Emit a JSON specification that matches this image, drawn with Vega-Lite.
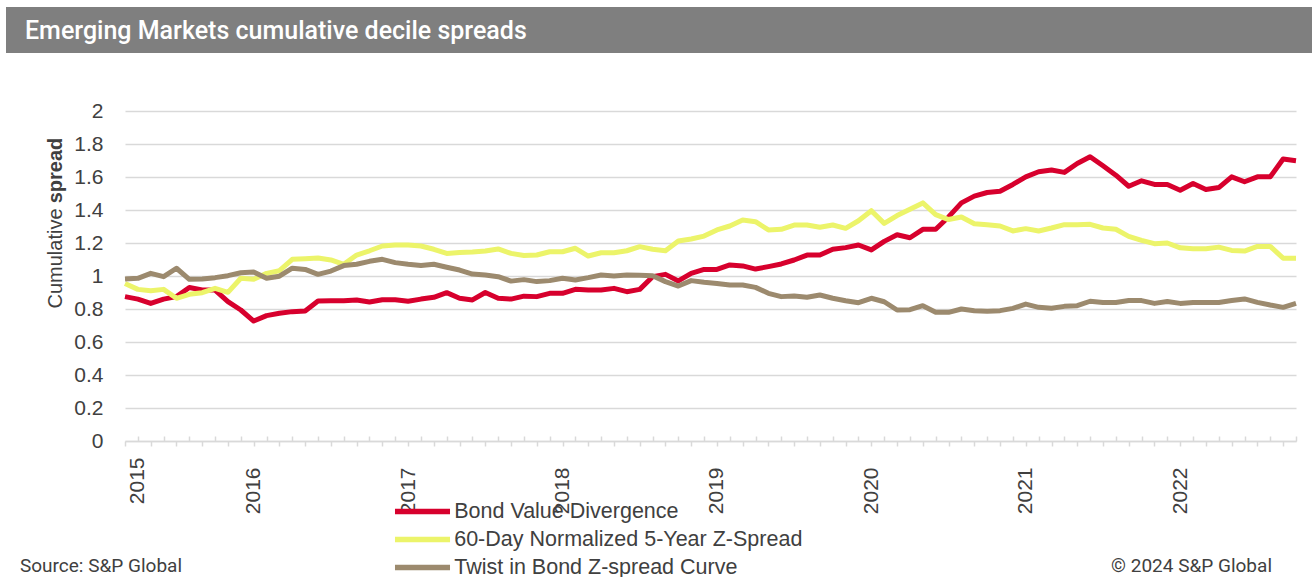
{
"$schema": "https://vega.github.io/schema/vega-lite/v6.json",
"background": "white",
"padding": {"left": 6, "top": 7, "right": 0, "bottom": 0},
"config": {"view": {"stroke": null}, "font": "Liberation Sans"},
"spacing": 43,
"vconcat": [
{
"width": 1306, "height": 46,
"view": {"fill": "#7f7f7f", "stroke": null},
"data": {"values": [{"pos": "left", "t": "Emerging Markets cumulative decile spreads"}]},
"layer": [
{
"mark": {"type": "text", "align": "left", "baseline": "middle", "dx": 19, "dy": 1, "color": "white", "font": "Roboto", "fontWeight": 500, "fontSize": 25},
"encoding": {
"x": {"field": "pos", "type": "nominal", "scale": {"type": "point", "domain": ["left", "right"], "padding": 0}, "axis": null},
"text": {"field": "t"}
}
},
{
"mark": {"type": "text", "align": "left", "baseline": "top", "dx": 30, "dy": 17, "fontSize": 10, "color": "#7f7f7f"},
"encoding": {
"x": {"field": "pos", "type": "nominal", "scale": {"type": "point", "domain": ["left", "right"], "padding": 0}, "axis": null},
"text": {"value": " "}
}
}
]
},
{
"spacing": 0,
"hconcat": [
{
"width": 39, "height": 1,
"data": {"values": []},
"mark": "point"
},
{
"width": 1171, "height": 330,
"data": {"values": [
{"month":"2015-03","series":"Bond Value Divergence","value":0.875},
{"month":"2015-04","series":"Bond Value Divergence","value":0.86},
{"month":"2015-05","series":"Bond Value Divergence","value":0.834},
{"month":"2015-06","series":"Bond Value Divergence","value":0.86},
{"month":"2015-07","series":"Bond Value Divergence","value":0.875},
{"month":"2015-08","series":"Bond Value Divergence","value":0.93},
{"month":"2015-09","series":"Bond Value Divergence","value":0.915},
{"month":"2015-10","series":"Bond Value Divergence","value":0.915},
{"month":"2015-11","series":"Bond Value Divergence","value":0.845},
{"month":"2015-12","series":"Bond Value Divergence","value":0.794},
{"month":"2016-01","series":"Bond Value Divergence","value":0.727},
{"month":"2016-02","series":"Bond Value Divergence","value":0.76},
{"month":"2016-03","series":"Bond Value Divergence","value":0.774},
{"month":"2016-04","series":"Bond Value Divergence","value":0.784},
{"month":"2016-05","series":"Bond Value Divergence","value":0.788},
{"month":"2016-06","series":"Bond Value Divergence","value":0.848},
{"month":"2016-07","series":"Bond Value Divergence","value":0.85},
{"month":"2016-08","series":"Bond Value Divergence","value":0.85},
{"month":"2016-09","series":"Bond Value Divergence","value":0.855},
{"month":"2016-10","series":"Bond Value Divergence","value":0.842},
{"month":"2016-11","series":"Bond Value Divergence","value":0.856},
{"month":"2016-12","series":"Bond Value Divergence","value":0.856},
{"month":"2017-01","series":"Bond Value Divergence","value":0.847},
{"month":"2017-02","series":"Bond Value Divergence","value":0.86},
{"month":"2017-03","series":"Bond Value Divergence","value":0.871},
{"month":"2017-04","series":"Bond Value Divergence","value":0.899},
{"month":"2017-05","series":"Bond Value Divergence","value":0.865},
{"month":"2017-06","series":"Bond Value Divergence","value":0.855},
{"month":"2017-07","series":"Bond Value Divergence","value":0.9},
{"month":"2017-08","series":"Bond Value Divergence","value":0.865},
{"month":"2017-09","series":"Bond Value Divergence","value":0.86},
{"month":"2017-10","series":"Bond Value Divergence","value":0.878},
{"month":"2017-11","series":"Bond Value Divergence","value":0.875},
{"month":"2017-12","series":"Bond Value Divergence","value":0.895},
{"month":"2018-01","series":"Bond Value Divergence","value":0.895},
{"month":"2018-02","series":"Bond Value Divergence","value":0.919},
{"month":"2018-03","series":"Bond Value Divergence","value":0.915},
{"month":"2018-04","series":"Bond Value Divergence","value":0.915},
{"month":"2018-05","series":"Bond Value Divergence","value":0.925},
{"month":"2018-06","series":"Bond Value Divergence","value":0.905},
{"month":"2018-07","series":"Bond Value Divergence","value":0.919},
{"month":"2018-08","series":"Bond Value Divergence","value":0.996},
{"month":"2018-09","series":"Bond Value Divergence","value":1.01},
{"month":"2018-10","series":"Bond Value Divergence","value":0.97},
{"month":"2018-11","series":"Bond Value Divergence","value":1.016},
{"month":"2018-12","series":"Bond Value Divergence","value":1.04},
{"month":"2019-01","series":"Bond Value Divergence","value":1.04},
{"month":"2019-02","series":"Bond Value Divergence","value":1.067},
{"month":"2019-03","series":"Bond Value Divergence","value":1.061},
{"month":"2019-04","series":"Bond Value Divergence","value":1.042},
{"month":"2019-05","series":"Bond Value Divergence","value":1.057},
{"month":"2019-06","series":"Bond Value Divergence","value":1.073},
{"month":"2019-07","series":"Bond Value Divergence","value":1.097},
{"month":"2019-08","series":"Bond Value Divergence","value":1.127},
{"month":"2019-09","series":"Bond Value Divergence","value":1.127},
{"month":"2019-10","series":"Bond Value Divergence","value":1.162},
{"month":"2019-11","series":"Bond Value Divergence","value":1.172},
{"month":"2019-12","series":"Bond Value Divergence","value":1.188},
{"month":"2020-01","series":"Bond Value Divergence","value":1.158},
{"month":"2020-02","series":"Bond Value Divergence","value":1.21},
{"month":"2020-03","series":"Bond Value Divergence","value":1.25},
{"month":"2020-04","series":"Bond Value Divergence","value":1.232},
{"month":"2020-05","series":"Bond Value Divergence","value":1.283},
{"month":"2020-06","series":"Bond Value Divergence","value":1.283},
{"month":"2020-07","series":"Bond Value Divergence","value":1.358},
{"month":"2020-08","series":"Bond Value Divergence","value":1.443},
{"month":"2020-09","series":"Bond Value Divergence","value":1.484},
{"month":"2020-10","series":"Bond Value Divergence","value":1.506},
{"month":"2020-11","series":"Bond Value Divergence","value":1.514},
{"month":"2020-12","series":"Bond Value Divergence","value":1.555},
{"month":"2021-01","series":"Bond Value Divergence","value":1.601},
{"month":"2021-02","series":"Bond Value Divergence","value":1.632},
{"month":"2021-03","series":"Bond Value Divergence","value":1.642},
{"month":"2021-04","series":"Bond Value Divergence","value":1.628},
{"month":"2021-05","series":"Bond Value Divergence","value":1.682},
{"month":"2021-06","series":"Bond Value Divergence","value":1.723},
{"month":"2021-07","series":"Bond Value Divergence","value":1.668},
{"month":"2021-08","series":"Bond Value Divergence","value":1.611},
{"month":"2021-09","series":"Bond Value Divergence","value":1.544},
{"month":"2021-10","series":"Bond Value Divergence","value":1.577},
{"month":"2021-11","series":"Bond Value Divergence","value":1.555},
{"month":"2021-12","series":"Bond Value Divergence","value":1.555},
{"month":"2022-01","series":"Bond Value Divergence","value":1.52},
{"month":"2022-02","series":"Bond Value Divergence","value":1.561},
{"month":"2022-03","series":"Bond Value Divergence","value":1.524},
{"month":"2022-04","series":"Bond Value Divergence","value":1.536},
{"month":"2022-05","series":"Bond Value Divergence","value":1.601},
{"month":"2022-06","series":"Bond Value Divergence","value":1.571},
{"month":"2022-07","series":"Bond Value Divergence","value":1.601},
{"month":"2022-08","series":"Bond Value Divergence","value":1.601},
{"month":"2022-09","series":"Bond Value Divergence","value":1.709},
{"month":"2022-10","series":"Bond Value Divergence","value":1.699},
{"month":"2015-03","series":"60-Day Normalized 5-Year Z-Spread","value":0.955},
{"month":"2015-04","series":"60-Day Normalized 5-Year Z-Spread","value":0.919},
{"month":"2015-05","series":"60-Day Normalized 5-Year Z-Spread","value":0.911},
{"month":"2015-06","series":"60-Day Normalized 5-Year Z-Spread","value":0.919},
{"month":"2015-07","series":"60-Day Normalized 5-Year Z-Spread","value":0.865},
{"month":"2015-08","series":"60-Day Normalized 5-Year Z-Spread","value":0.889},
{"month":"2015-09","series":"60-Day Normalized 5-Year Z-Spread","value":0.899},
{"month":"2015-10","series":"60-Day Normalized 5-Year Z-Spread","value":0.925},
{"month":"2015-11","series":"60-Day Normalized 5-Year Z-Spread","value":0.901},
{"month":"2015-12","series":"60-Day Normalized 5-Year Z-Spread","value":0.986},
{"month":"2016-01","series":"60-Day Normalized 5-Year Z-Spread","value":0.98},
{"month":"2016-02","series":"60-Day Normalized 5-Year Z-Spread","value":1.016},
{"month":"2016-03","series":"60-Day Normalized 5-Year Z-Spread","value":1.032},
{"month":"2016-04","series":"60-Day Normalized 5-Year Z-Spread","value":1.101},
{"month":"2016-05","series":"60-Day Normalized 5-Year Z-Spread","value":1.105},
{"month":"2016-06","series":"60-Day Normalized 5-Year Z-Spread","value":1.109},
{"month":"2016-07","series":"60-Day Normalized 5-Year Z-Spread","value":1.097},
{"month":"2016-08","series":"60-Day Normalized 5-Year Z-Spread","value":1.071},
{"month":"2016-09","series":"60-Day Normalized 5-Year Z-Spread","value":1.127},
{"month":"2016-10","series":"60-Day Normalized 5-Year Z-Spread","value":1.153},
{"month":"2016-11","series":"60-Day Normalized 5-Year Z-Spread","value":1.182},
{"month":"2016-12","series":"60-Day Normalized 5-Year Z-Spread","value":1.188},
{"month":"2017-01","series":"60-Day Normalized 5-Year Z-Spread","value":1.188},
{"month":"2017-02","series":"60-Day Normalized 5-Year Z-Spread","value":1.182},
{"month":"2017-03","series":"60-Day Normalized 5-Year Z-Spread","value":1.162},
{"month":"2017-04","series":"60-Day Normalized 5-Year Z-Spread","value":1.137},
{"month":"2017-05","series":"60-Day Normalized 5-Year Z-Spread","value":1.143},
{"month":"2017-06","series":"60-Day Normalized 5-Year Z-Spread","value":1.145},
{"month":"2017-07","series":"60-Day Normalized 5-Year Z-Spread","value":1.151},
{"month":"2017-08","series":"60-Day Normalized 5-Year Z-Spread","value":1.164},
{"month":"2017-09","series":"60-Day Normalized 5-Year Z-Spread","value":1.137},
{"month":"2017-10","series":"60-Day Normalized 5-Year Z-Spread","value":1.124},
{"month":"2017-11","series":"60-Day Normalized 5-Year Z-Spread","value":1.127},
{"month":"2017-12","series":"60-Day Normalized 5-Year Z-Spread","value":1.147},
{"month":"2018-01","series":"60-Day Normalized 5-Year Z-Spread","value":1.147},
{"month":"2018-02","series":"60-Day Normalized 5-Year Z-Spread","value":1.168},
{"month":"2018-03","series":"60-Day Normalized 5-Year Z-Spread","value":1.121},
{"month":"2018-04","series":"60-Day Normalized 5-Year Z-Spread","value":1.141},
{"month":"2018-05","series":"60-Day Normalized 5-Year Z-Spread","value":1.141},
{"month":"2018-06","series":"60-Day Normalized 5-Year Z-Spread","value":1.153},
{"month":"2018-07","series":"60-Day Normalized 5-Year Z-Spread","value":1.178},
{"month":"2018-08","series":"60-Day Normalized 5-Year Z-Spread","value":1.162},
{"month":"2018-09","series":"60-Day Normalized 5-Year Z-Spread","value":1.153},
{"month":"2018-10","series":"60-Day Normalized 5-Year Z-Spread","value":1.212},
{"month":"2018-11","series":"60-Day Normalized 5-Year Z-Spread","value":1.224},
{"month":"2018-12","series":"60-Day Normalized 5-Year Z-Spread","value":1.242},
{"month":"2019-01","series":"60-Day Normalized 5-Year Z-Spread","value":1.279},
{"month":"2019-02","series":"60-Day Normalized 5-Year Z-Spread","value":1.303},
{"month":"2019-03","series":"60-Day Normalized 5-Year Z-Spread","value":1.339},
{"month":"2019-04","series":"60-Day Normalized 5-Year Z-Spread","value":1.329},
{"month":"2019-05","series":"60-Day Normalized 5-Year Z-Spread","value":1.279},
{"month":"2019-06","series":"60-Day Normalized 5-Year Z-Spread","value":1.283},
{"month":"2019-07","series":"60-Day Normalized 5-Year Z-Spread","value":1.309},
{"month":"2019-08","series":"60-Day Normalized 5-Year Z-Spread","value":1.309},
{"month":"2019-09","series":"60-Day Normalized 5-Year Z-Spread","value":1.295},
{"month":"2019-10","series":"60-Day Normalized 5-Year Z-Spread","value":1.309},
{"month":"2019-11","series":"60-Day Normalized 5-Year Z-Spread","value":1.289},
{"month":"2019-12","series":"60-Day Normalized 5-Year Z-Spread","value":1.335},
{"month":"2020-01","series":"60-Day Normalized 5-Year Z-Spread","value":1.396},
{"month":"2020-02","series":"60-Day Normalized 5-Year Z-Spread","value":1.319},
{"month":"2020-03","series":"60-Day Normalized 5-Year Z-Spread","value":1.366},
{"month":"2020-04","series":"60-Day Normalized 5-Year Z-Spread","value":1.404},
{"month":"2020-05","series":"60-Day Normalized 5-Year Z-Spread","value":1.443},
{"month":"2020-06","series":"60-Day Normalized 5-Year Z-Spread","value":1.372},
{"month":"2020-07","series":"60-Day Normalized 5-Year Z-Spread","value":1.342},
{"month":"2020-08","series":"60-Day Normalized 5-Year Z-Spread","value":1.358},
{"month":"2020-09","series":"60-Day Normalized 5-Year Z-Spread","value":1.317},
{"month":"2020-10","series":"60-Day Normalized 5-Year Z-Spread","value":1.311},
{"month":"2020-11","series":"60-Day Normalized 5-Year Z-Spread","value":1.303},
{"month":"2020-12","series":"60-Day Normalized 5-Year Z-Spread","value":1.273},
{"month":"2021-01","series":"60-Day Normalized 5-Year Z-Spread","value":1.287},
{"month":"2021-02","series":"60-Day Normalized 5-Year Z-Spread","value":1.273},
{"month":"2021-03","series":"60-Day Normalized 5-Year Z-Spread","value":1.291},
{"month":"2021-04","series":"60-Day Normalized 5-Year Z-Spread","value":1.311},
{"month":"2021-05","series":"60-Day Normalized 5-Year Z-Spread","value":1.311},
{"month":"2021-06","series":"60-Day Normalized 5-Year Z-Spread","value":1.313},
{"month":"2021-07","series":"60-Day Normalized 5-Year Z-Spread","value":1.291},
{"month":"2021-08","series":"60-Day Normalized 5-Year Z-Spread","value":1.283},
{"month":"2021-09","series":"60-Day Normalized 5-Year Z-Spread","value":1.24},
{"month":"2021-10","series":"60-Day Normalized 5-Year Z-Spread","value":1.216},
{"month":"2021-11","series":"60-Day Normalized 5-Year Z-Spread","value":1.196},
{"month":"2021-12","series":"60-Day Normalized 5-Year Z-Spread","value":1.2},
{"month":"2022-01","series":"60-Day Normalized 5-Year Z-Spread","value":1.171},
{"month":"2022-02","series":"60-Day Normalized 5-Year Z-Spread","value":1.165},
{"month":"2022-03","series":"60-Day Normalized 5-Year Z-Spread","value":1.165},
{"month":"2022-04","series":"60-Day Normalized 5-Year Z-Spread","value":1.175},
{"month":"2022-05","series":"60-Day Normalized 5-Year Z-Spread","value":1.155},
{"month":"2022-06","series":"60-Day Normalized 5-Year Z-Spread","value":1.151},
{"month":"2022-07","series":"60-Day Normalized 5-Year Z-Spread","value":1.179},
{"month":"2022-08","series":"60-Day Normalized 5-Year Z-Spread","value":1.179},
{"month":"2022-09","series":"60-Day Normalized 5-Year Z-Spread","value":1.108},
{"month":"2022-10","series":"60-Day Normalized 5-Year Z-Spread","value":1.108},
{"month":"2015-03","series":"Twist in Bond Z-spread Curve","value":0.982},
{"month":"2015-04","series":"Twist in Bond Z-spread Curve","value":0.986},
{"month":"2015-05","series":"Twist in Bond Z-spread Curve","value":1.016},
{"month":"2015-06","series":"Twist in Bond Z-spread Curve","value":0.996},
{"month":"2015-07","series":"Twist in Bond Z-spread Curve","value":1.047},
{"month":"2015-08","series":"Twist in Bond Z-spread Curve","value":0.98},
{"month":"2015-09","series":"Twist in Bond Z-spread Curve","value":0.982},
{"month":"2015-10","series":"Twist in Bond Z-spread Curve","value":0.99},
{"month":"2015-11","series":"Twist in Bond Z-spread Curve","value":1.002},
{"month":"2015-12","series":"Twist in Bond Z-spread Curve","value":1.02},
{"month":"2016-01","series":"Twist in Bond Z-spread Curve","value":1.024},
{"month":"2016-02","series":"Twist in Bond Z-spread Curve","value":0.986},
{"month":"2016-03","series":"Twist in Bond Z-spread Curve","value":0.999},
{"month":"2016-04","series":"Twist in Bond Z-spread Curve","value":1.047},
{"month":"2016-05","series":"Twist in Bond Z-spread Curve","value":1.04},
{"month":"2016-06","series":"Twist in Bond Z-spread Curve","value":1.01},
{"month":"2016-07","series":"Twist in Bond Z-spread Curve","value":1.03},
{"month":"2016-08","series":"Twist in Bond Z-spread Curve","value":1.063},
{"month":"2016-09","series":"Twist in Bond Z-spread Curve","value":1.071},
{"month":"2016-10","series":"Twist in Bond Z-spread Curve","value":1.089},
{"month":"2016-11","series":"Twist in Bond Z-spread Curve","value":1.101},
{"month":"2016-12","series":"Twist in Bond Z-spread Curve","value":1.081},
{"month":"2017-01","series":"Twist in Bond Z-spread Curve","value":1.071},
{"month":"2017-02","series":"Twist in Bond Z-spread Curve","value":1.063},
{"month":"2017-03","series":"Twist in Bond Z-spread Curve","value":1.071},
{"month":"2017-04","series":"Twist in Bond Z-spread Curve","value":1.053},
{"month":"2017-05","series":"Twist in Bond Z-spread Curve","value":1.036},
{"month":"2017-06","series":"Twist in Bond Z-spread Curve","value":1.012},
{"month":"2017-07","series":"Twist in Bond Z-spread Curve","value":1.006},
{"month":"2017-08","series":"Twist in Bond Z-spread Curve","value":0.996},
{"month":"2017-09","series":"Twist in Bond Z-spread Curve","value":0.969},
{"month":"2017-10","series":"Twist in Bond Z-spread Curve","value":0.978},
{"month":"2017-11","series":"Twist in Bond Z-spread Curve","value":0.966},
{"month":"2017-12","series":"Twist in Bond Z-spread Curve","value":0.972},
{"month":"2018-01","series":"Twist in Bond Z-spread Curve","value":0.986},
{"month":"2018-02","series":"Twist in Bond Z-spread Curve","value":0.976},
{"month":"2018-03","series":"Twist in Bond Z-spread Curve","value":0.99},
{"month":"2018-04","series":"Twist in Bond Z-spread Curve","value":1.006},
{"month":"2018-05","series":"Twist in Bond Z-spread Curve","value":1.0},
{"month":"2018-06","series":"Twist in Bond Z-spread Curve","value":1.006},
{"month":"2018-07","series":"Twist in Bond Z-spread Curve","value":1.004},
{"month":"2018-08","series":"Twist in Bond Z-spread Curve","value":1.002},
{"month":"2018-09","series":"Twist in Bond Z-spread Curve","value":0.966},
{"month":"2018-10","series":"Twist in Bond Z-spread Curve","value":0.939},
{"month":"2018-11","series":"Twist in Bond Z-spread Curve","value":0.972},
{"month":"2018-12","series":"Twist in Bond Z-spread Curve","value":0.962},
{"month":"2019-01","series":"Twist in Bond Z-spread Curve","value":0.955},
{"month":"2019-02","series":"Twist in Bond Z-spread Curve","value":0.945},
{"month":"2019-03","series":"Twist in Bond Z-spread Curve","value":0.945},
{"month":"2019-04","series":"Twist in Bond Z-spread Curve","value":0.931},
{"month":"2019-05","series":"Twist in Bond Z-spread Curve","value":0.895},
{"month":"2019-06","series":"Twist in Bond Z-spread Curve","value":0.875},
{"month":"2019-07","series":"Twist in Bond Z-spread Curve","value":0.879},
{"month":"2019-08","series":"Twist in Bond Z-spread Curve","value":0.871},
{"month":"2019-09","series":"Twist in Bond Z-spread Curve","value":0.885},
{"month":"2019-10","series":"Twist in Bond Z-spread Curve","value":0.865},
{"month":"2019-11","series":"Twist in Bond Z-spread Curve","value":0.85},
{"month":"2019-12","series":"Twist in Bond Z-spread Curve","value":0.838},
{"month":"2020-01","series":"Twist in Bond Z-spread Curve","value":0.865},
{"month":"2020-02","series":"Twist in Bond Z-spread Curve","value":0.844},
{"month":"2020-03","series":"Twist in Bond Z-spread Curve","value":0.794},
{"month":"2020-04","series":"Twist in Bond Z-spread Curve","value":0.796},
{"month":"2020-05","series":"Twist in Bond Z-spread Curve","value":0.82},
{"month":"2020-06","series":"Twist in Bond Z-spread Curve","value":0.78},
{"month":"2020-07","series":"Twist in Bond Z-spread Curve","value":0.78},
{"month":"2020-08","series":"Twist in Bond Z-spread Curve","value":0.8},
{"month":"2020-09","series":"Twist in Bond Z-spread Curve","value":0.79},
{"month":"2020-10","series":"Twist in Bond Z-spread Curve","value":0.786},
{"month":"2020-11","series":"Twist in Bond Z-spread Curve","value":0.79},
{"month":"2020-12","series":"Twist in Bond Z-spread Curve","value":0.804},
{"month":"2021-01","series":"Twist in Bond Z-spread Curve","value":0.83},
{"month":"2021-02","series":"Twist in Bond Z-spread Curve","value":0.81},
{"month":"2021-03","series":"Twist in Bond Z-spread Curve","value":0.804},
{"month":"2021-04","series":"Twist in Bond Z-spread Curve","value":0.816},
{"month":"2021-05","series":"Twist in Bond Z-spread Curve","value":0.82},
{"month":"2021-06","series":"Twist in Bond Z-spread Curve","value":0.847},
{"month":"2021-07","series":"Twist in Bond Z-spread Curve","value":0.84},
{"month":"2021-08","series":"Twist in Bond Z-spread Curve","value":0.84},
{"month":"2021-09","series":"Twist in Bond Z-spread Curve","value":0.851},
{"month":"2021-10","series":"Twist in Bond Z-spread Curve","value":0.851},
{"month":"2021-11","series":"Twist in Bond Z-spread Curve","value":0.834},
{"month":"2021-12","series":"Twist in Bond Z-spread Curve","value":0.845},
{"month":"2022-01","series":"Twist in Bond Z-spread Curve","value":0.834},
{"month":"2022-02","series":"Twist in Bond Z-spread Curve","value":0.84},
{"month":"2022-03","series":"Twist in Bond Z-spread Curve","value":0.84},
{"month":"2022-04","series":"Twist in Bond Z-spread Curve","value":0.84},
{"month":"2022-05","series":"Twist in Bond Z-spread Curve","value":0.851},
{"month":"2022-06","series":"Twist in Bond Z-spread Curve","value":0.861},
{"month":"2022-07","series":"Twist in Bond Z-spread Curve","value":0.84},
{"month":"2022-08","series":"Twist in Bond Z-spread Curve","value":0.824},
{"month":"2022-09","series":"Twist in Bond Z-spread Curve","value":0.81},
{"month":"2022-10","series":"Twist in Bond Z-spread Curve","value":0.834}
]},
"layer": [
{
"mark": {"type": "line", "strokeWidth": 5, "strokeJoin": "round", "strokeCap": "butt"},
"encoding": {
"x": {"field": "month", "type": "ordinal", "scale": {"type": "point", "padding": 0},
 "axis": {"title": null, "labelAngle": -90, "labelFontSize": 21, "labelColor": "#404040", "labelPadding": 21,
  "labelOverlap": false, "labelBound": false,
  "labelExpr": "datum.value == '2015-04' || substring(datum.value, 5, 7) == '01' ? substring(datum.value, 0, 4) : ''",
  "tickSize": {"condition": {"test": "toNumber(substring(datum.value, 5, 7)) % 2 == 0", "value": -5}, "value": 5},
  "tickColor": "#d9d9d9", "tickWidth": 1.5, "domainColor": "#d9d9d9", "domainWidth": 1.5, "grid": false}},
"y": {"field": "value", "type": "quantitative", "scale": {"domain": [0, 2]},
 "axis": {"title": "Cumulative", "titleFontSize": 20, "titleFontWeight": "normal", "titleColor": "#404040",
  "titleX": -64, "titleY": 147, "titleAngle": -90, "titleAlign": "center", "titleBaseline": "alphabetic",
  "values": [0, 0.2, 0.4, 0.6, 0.8, 1, 1.2, 1.4, 1.6, 1.8, 2], "format": "~g",
  "labelFontSize": 21, "labelColor": "#404040", "labelPadding": 22, "ticks": false, "domain": false,
  "gridColor": "#d9d9d9", "gridWidth": 1.5}},
"color": {"field": "series", "type": "nominal",
 "scale": {"domain": ["Bond Value Divergence", "60-Day Normalized 5-Year Z-Spread", "Twist in Bond Z-spread Curve"], "range": ["#d7002d", "#ecf46a", "#9c8a6e"]},
 "legend": {"title": null, "orient": "none", "legendX": 400, "legendY": 488, "direction": "vertical",
  "symbolType": "M-2.068,0H2.068", "symbolSize": 708, "symbolStrokeWidth": 5.5, "labelFontSize": 21.5, "labelColor": "#404040",
  "labelOffset": 15.2, "rowPadding": 0, "labelLimit": 600}}
}
},
{
"mark": {"type": "line", "opacity": 0},
"encoding": {
"x": {"field": "month", "type": "ordinal", "scale": {"type": "point", "padding": 0}},
"y": {"field": "value", "type": "quantitative", "scale": {"domain": [0, 2]},
 "axis": {"orient": "left", "title": "spread", "titleFontSize": 20, "titleFontWeight": "bold", "titleColor": "#404040",
  "titleX": -64, "titleY": 59, "titleAngle": -90, "titleAlign": "center", "titleBaseline": "alphabetic",
  "labels": false, "ticks": false, "domain": false, "grid": false}},
"detail": {"field": "series"}
}
}
],
"resolve": {"scale": {"y": "independent"}}
}
]
},
{
"width": 1306, "height": 2,
"layer": [
{
"data": {"values": [{"pos": "left", "t": "Source: S&P Global"}]},
"mark": {"type": "text", "align": "left", "baseline": "middle", "dx": 14, "color": "#404040", "font": "Roboto", "fontSize": 19},
"encoding": {
"x": {"field": "pos", "type": "nominal", "scale": {"type": "point", "domain": ["left", "right"], "padding": 0}, "axis": null},
"text": {"field": "t"}
}
},
{
"data": {"values": [{"pos": "right", "t": "© 2024 S&P Global"}]},
"mark": {"type": "text", "align": "right", "baseline": "middle", "dx": -40, "color": "#404040", "font": "Roboto", "fontSize": 19},
"encoding": {
"x": {"field": "pos", "type": "nominal", "scale": {"type": "point", "domain": ["left", "right"], "padding": 0}, "axis": null},
"text": {"field": "t"}
}
}
]
}
]
}
